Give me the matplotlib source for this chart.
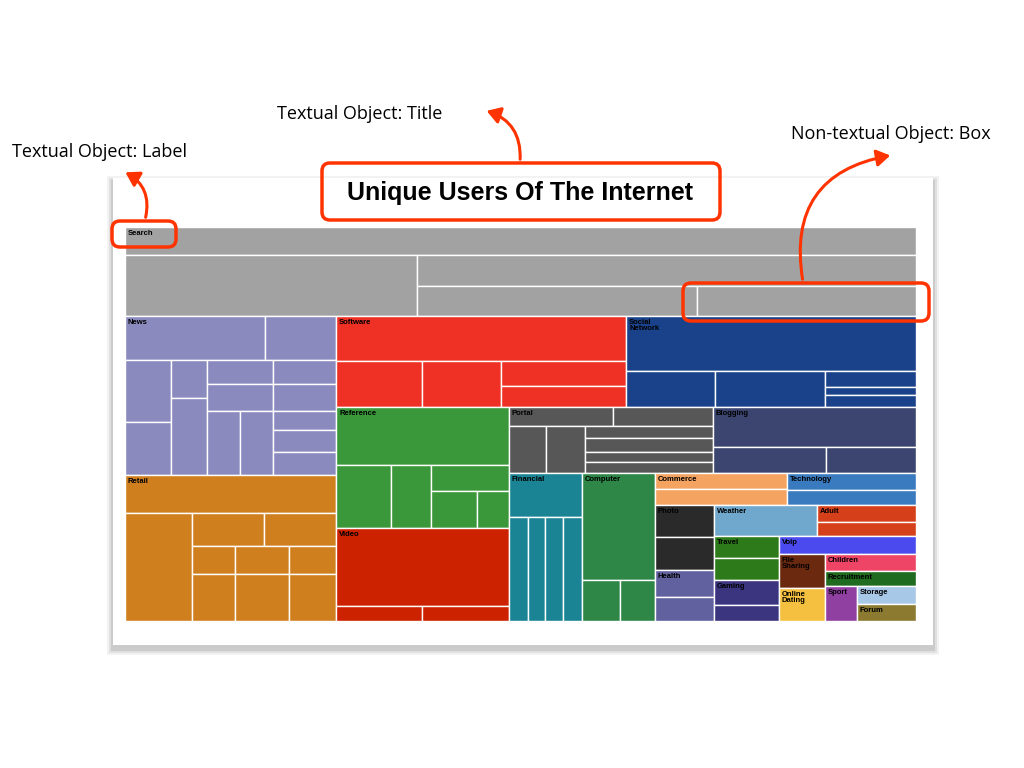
import matplotlib.pyplot as plt
from matplotlib.patches import Rectangle, FancyBboxPatch, FancyArrowPatch

# --- treemap data: nested weights (relative extent along split direction) ---
def H(w, *kids, c=None, l=None):
    return (w, 'h', kids, c, l)

def V(w, *kids, c=None, l=None):
    return (w, 'v', kids, c, l)

def L(w, c=None, l=None):
    return (w, 'leaf', (), c, l)

search = V(89, L(28), H(61, L(292), V(499, L(31), H(30, L(280), L(219)))), c='#a2a2a2', l='Search')

news = V(159, H(44, L(140), L(71)),
         H(115, V(46, L(62), L(53)), V(36, L(38), L(77)),
           V(66, L(24), L(27), H(64, L(33), L(33))),
           V(63, L(24), L(27), L(19), L(22), L(23))),
         c='#8a8abf', l='News')
retail = V(146, L(38),
           H(108, L(67), V(144, H(33, L(72), L(72)), H(28, L(43), L(54), L(47)),
                           H(47, L(43), L(54), L(47)))),
           c='#d07f1f', l='Retail')
software = V(91, L(45), H(46, L(96), L(87), V(139, L(25), L(21))), c='#ee3124', l='Software')
social = V(91, L(55), H(36, L(79), L(98), V(81, L(16), L(8), L(12))), c='#1a428a', l='Social\nNetwork')
reference = V(121, L(58), H(63, L(55), L(40), V(78, L(26), H(37, L(46), L(32)))),
              c='#3a973a', l='Reference')
video = V(93, L(78), H(15, L(86), L(87)), c='#cc2200', l='Video')
portal = V(66, H(19, L(117), L(111)),
           H(47, L(42), L(43), V(143, L(12), L(14), L(10), L(11))), c='#575757', l='Portal')
blogging = V(66, L(40), H(26, L(100), L(79)), c='#3b4570', l='Blogging')
financial = V(73, L(44), H(104, L(19), L(17), L(18), L(19)), c='#1a8494', l='Financial')
computer = V(73, L(107), H(41, L(38), L(35)), c='#2e8647', l='Computer')

# small categories
commerce = V(132, L(16), L(16), c='#f4a460', l='Commerce')
technology = V(129, L(17), L(15), c='#3a7bbf', l='Technology')
photo = V(65, L(32), L(33), c='#2a2a2a', l='Photo')
health = V(51, L(27), L(24), c='#6161a0', l='Health')
weather = L(103, c='#6fa8cc', l='Weather')
adult = V(99, L(17), L(14), c='#d5401a', l='Adult')
travel = V(44, L(22), L(22), c='#2d7a1a', l='Travel')
gaming = V(41, L(25), L(16), c='#3b3580', l='Gaming')
voip = L(18, c='#4a4aee', l='Voip')
filesharing = L(34, c='#6b2a10', l='File\nSharing')
dating = L(33, c='#f5c040', l='Online\nDating')
children = L(17, c='#ee4466', l='Children')
recruitment = L(15, c='#1f6b1f', l='Recruitment')
sport = L(32, c='#9040a0', l='Sport')
storage = L(18, c='#a8c8e8', l='Storage')
forum = L(17, c='#8b7a30', l='Forum')

right_col = V(91, children, recruitment, H(35, sport, V(59, storage, forum)))
voip_block = V(137, voip, H(67, V(46, filesharing, dating), right_col))
mid_block = V(202, H(31, weather, adult), H(85, V(65, travel, gaming), voip_block))
small = V(261, H(32, commerce, technology), H(116, V(59, photo, health), mid_block))

lower_right = V(407, H(66, portal, blogging), H(148, financial, computer, small))
root = V(394, search,
         H(305, V(211, news, retail),
           V(580, H(91, software, social),
             H(214, V(173, reference, video), lower_right))))

TITLE = 'Unique Users Of The Internet'

fig = plt.figure(figsize=(10.24, 7.68), dpi=100)
ax = fig.add_axes([0, 0, 1, 1])
ax.set_xlim(0, 1024)
ax.set_ylim(768, 0)
ax.axis('off')

# card with shadow
for i, a in enumerate([0.05, 0.07, 0.09]):
    d = 6 - 2 * i
    ax.add_patch(Rectangle((113 - d, 178 - d + 4), 820 + 2 * d, 467 + 2 * d,
                           facecolor='black', alpha=a, lw=0, zorder=0))
ax.add_patch(Rectangle((113, 178), 820, 467, facecolor='white', lw=0, zorder=1))


def draw(node, x, y, w, h, color=None):
    weight, kind, kids, c, lab = node
    color = c or color
    if kind == 'leaf':
        ax.add_patch(Rectangle((x, y), w, h, facecolor=color, edgecolor='white', lw=1, zorder=2))
    else:
        tot = sum(k[0] for k in kids)
        pos = x if kind == 'h' else y
        for k in kids:
            if kind == 'h':
                step = w * k[0] / tot
                draw(k, pos, y, step, h, color)
            else:
                step = h * k[0] / tot
                draw(k, x, pos, w, step, color)
            pos += step
    if lab:
        ax.text(x + 3, y + 3, lab, fontsize=5.5, fontweight='bold', va='top', ha='left',
                family='Liberation Sans', linespacing=0.9, zorder=4)


draw(root, 125, 227, 791, 394)

ax.text(520, 193, TITLE, fontsize=18, fontweight='bold', ha='center', va='center',
        family='Liberation Sans', zorder=5)

red = '#ff3300'
boxes = [(112, 221, 64, 26), (322, 163, 398, 57), (683, 283, 246, 38)]
for bx, by, bw, bh in boxes:
    ax.add_patch(FancyBboxPatch((bx, by), bw, bh, boxstyle='round,pad=0,rounding_size=8',
                                facecolor='none', edgecolor=red, lw=2.5, zorder=6))

ann_font = dict(fontsize=13, family='Open Sans', va='center', zorder=6)
ax.text(12, 152, 'Textual Object: Label', ha='left', **ann_font)
ax.text(360, 114, 'Textual Object: Title', ha='center', **ann_font)
ax.text(891, 134, 'Non-textual Object: Box', ha='center', **ann_font)

arrows = [((145, 220), (123, 171), 0.4),
          ((520, 162), (484, 110), 0.4),
          ((803, 282), (893, 155), -0.5)]
for (x0, y0), (x1, y1), rad in arrows:
    ax.add_patch(FancyArrowPatch((x0, y0), (x1, y1), connectionstyle=f'arc3,rad={rad}',
                                 arrowstyle='-|>,head_length=8,head_width=5',
                                 color=red, lw=2.2, zorder=6))

fig.savefig('out.png', dpi=100)
